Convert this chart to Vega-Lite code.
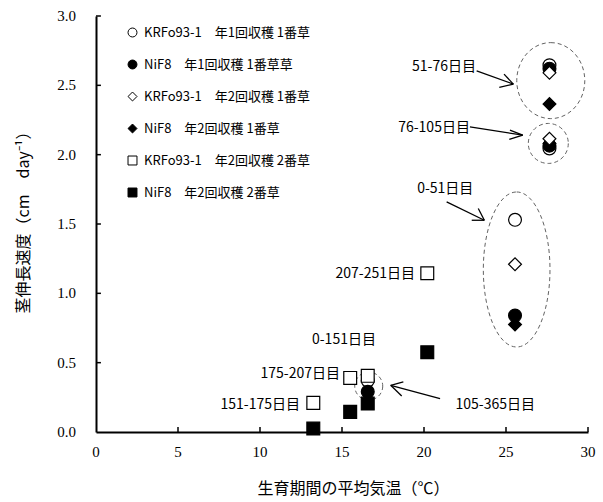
{
  "$schema": "https://vega.github.io/schema/vega-lite/v6.json",
  "width": 492,
  "height": 416,
  "autosize": "none",
  "padding": {"left": 96, "top": 16, "right": 15, "bottom": 70},
  "background": "white",
  "config": {
    "view": {"stroke": null},
    "axis": {
      "grid": false,
      "ticks": false,
      "labels": false,
      "domainColor": "black",
      "domainWidth": 2,
      "titleColor": "black",
      "titleFont": "Noto Sans CJK JP",
      "titleFontSize": 16,
      "titleFontWeight": "normal"
    },
    "legend": {"labelLimit": 0}
  },
  "datasets": {
    "points": [
      {"series": "KRFo93-1　年1回収穫 1番草", "temp": 25.55, "rate": 1.53},
      {"series": "KRFo93-1　年1回収穫 1番草", "temp": 27.65, "rate": 2.645},
      {"series": "KRFo93-1　年1回収穫 1番草", "temp": 27.65, "rate": 2.045},
      {"series": "KRFo93-1　年1回収穫 1番草", "temp": 16.57, "rate": 0.37},
      {"series": "NiF8　年1回収穫 1番草草", "temp": 25.55, "rate": 0.84},
      {"series": "NiF8　年1回収穫 1番草草", "temp": 27.65, "rate": 2.62},
      {"series": "NiF8　年1回収穫 1番草草", "temp": 27.65, "rate": 2.065},
      {"series": "NiF8　年1回収穫 1番草草", "temp": 16.57, "rate": 0.29},
      {"series": "NiF8　年2回収穫 1番草", "temp": 25.55, "rate": 0.775},
      {"series": "NiF8　年2回収穫 1番草", "temp": 27.65, "rate": 2.365},
      {"series": "NiF8　年2回収穫 1番草", "temp": 27.65, "rate": 2.08},
      {"series": "KRFo93-1　年2回収穫 1番草", "temp": 25.55, "rate": 1.21},
      {"series": "KRFo93-1　年2回収穫 1番草", "temp": 27.65, "rate": 2.59},
      {"series": "KRFo93-1　年2回収穫 1番草", "temp": 27.65, "rate": 2.115},
      {"series": "KRFo93-1　年2回収穫 2番草", "temp": 13.25, "rate": 0.21},
      {"series": "KRFo93-1　年2回収穫 2番草", "temp": 15.5, "rate": 0.39},
      {"series": "KRFo93-1　年2回収穫 2番草", "temp": 16.57, "rate": 0.405},
      {"series": "KRFo93-1　年2回収穫 2番草", "temp": 20.2, "rate": 1.145},
      {"series": "NiF8　年2回収穫 2番草", "temp": 13.25, "rate": 0.025},
      {"series": "NiF8　年2回収穫 2番草", "temp": 15.5, "rate": 0.145},
      {"series": "NiF8　年2回収穫 2番草", "temp": 16.57, "rate": 0.205},
      {"series": "NiF8　年2回収穫 2番草", "temp": 20.2, "rate": 0.575}
    ],
    "labels": [
      {"text": "51-76日目", "temp": 23.17, "rate": 2.631},
      {"text": "76-105日目", "temp": 22.8, "rate": 2.189},
      {"text": "0-51日目", "temp": 23.01, "rate": 1.756},
      {"text": "207-251日目", "temp": 19.45, "rate": 1.143},
      {"text": "0-151日目", "temp": 17.07, "rate": 0.667},
      {"text": "175-207日目", "temp": 14.88, "rate": 0.421},
      {"text": "151-175日目", "temp": 12.44, "rate": 0.193},
      {"text": "105-365日目", "temp": 26.77, "rate": 0.193}
    ],
    "arrows": [
      {"x": 23.21, "y": 2.605, "x2": 25.45, "y2": 2.509},
      {"x": 25.45, "y": 2.509, "x2": 24.59, "y2": 2.485},
      {"x": 25.45, "y": 2.509, "x2": 24.88, "y2": 2.581},
      {"x": 22.8, "y": 2.201, "x2": 26.02, "y2": 2.141},
      {"x": 26.02, "y": 2.141, "x2": 25.2, "y2": 2.11},
      {"x": 26.02, "y": 2.141, "x2": 25.24, "y2": 2.177},
      {"x": 21.38, "y": 1.659, "x2": 23.68, "y2": 1.527},
      {"x": 23.68, "y": 1.527, "x2": 22.91, "y2": 1.527},
      {"x": 23.68, "y": 1.527, "x2": 23.31, "y2": 1.612},
      {"x": 20.98, "y": 0.241, "x2": 17.97, "y2": 0.337},
      {"x": 17.97, "y": 0.337, "x2": 18.74, "y2": 0.361},
      {"x": 17.97, "y": 0.337, "x2": 18.64, "y2": 0.26}
    ],
    "ticks": [
      {"x": 5, "y": 0, "x2": 5, "y2": 0.036},
      {"x": 10, "y": 0, "x2": 10, "y2": 0.036},
      {"x": 15, "y": 0, "x2": 15, "y2": 0.036},
      {"x": 20, "y": 0, "x2": 20, "y2": 0.036},
      {"x": 25, "y": 0, "x2": 25, "y2": 0.036},
      {"x": 30, "y": 0, "x2": 30, "y2": 0.036},
      {"x": 0, "y": 0.5, "x2": 0.3, "y2": 0.5},
      {"x": 0, "y": 1, "x2": 0.3, "y2": 1},
      {"x": 0, "y": 1.5, "x2": 0.3, "y2": 1.5},
      {"x": 0, "y": 2, "x2": 0.3, "y2": 2},
      {"x": 0, "y": 2.5, "x2": 0.3, "y2": 2.5},
      {"x": 0, "y": 3, "x2": 0.3, "y2": 3}
    ],
    "xticklabels": [
      {"temp": 0, "rate": 0, "label": "0"},
      {"temp": 5, "rate": 0, "label": "5"},
      {"temp": 10, "rate": 0, "label": "10"},
      {"temp": 15, "rate": 0, "label": "15"},
      {"temp": 20, "rate": 0, "label": "20"},
      {"temp": 25, "rate": 0, "label": "25"},
      {"temp": 30, "rate": 0, "label": "30"}
    ],
    "yticklabels": [
      {"temp": 0, "rate": 0, "label": "0.0"},
      {"temp": 0, "rate": 0.5, "label": "0.5"},
      {"temp": 0, "rate": 1, "label": "1.0"},
      {"temp": 0, "rate": 1.5, "label": "1.5"},
      {"temp": 0, "rate": 2, "label": "2.0"},
      {"temp": 0, "rate": 2.5, "label": "2.5"},
      {"temp": 0, "rate": 3, "label": "3.0"}
    ]
  },
  "layer": [
    {
      "data": {"values": [{"temp": 27.73, "rate": 2.534}]},
      "mark": {"type": "point", "shape": "M0,-1A0.895,1,0,1,1,0,1A0.895,1,0,1,1,0,-1Z", "size": 5776, "filled": false, "stroke": "#222", "strokeWidth": 1, "strokeDash": [4, 3]},
      "encoding": {
        "x": {"field": "temp", "type": "quantitative", "scale": {"domain": [0, 30], "nice": false},
          "axis": {"values": [0, 5, 10, 15, 20, 25, 30], "title": "生育期間の平均気温（℃）", "titleX": 257, "titleY": 56, "titleBaseline": "middle"}},
        "y": {"field": "rate", "type": "quantitative", "scale": {"domain": [0, 3], "nice": false},
          "axis": {"values": [0, 0.5, 1, 1.5, 2, 2.5, 3], "title": "茎伸長速度（cm　day⁻¹）", "titleX": -73, "titleY": 202, "titleBaseline": "middle", "titleAlign": "center"}}
      }
    },
    {
      "data": {"values": [{"temp": 27.58, "rate": 2.081}]},
      "mark": {"type": "point", "shape": "circle", "size": 1600, "filled": false, "stroke": "#222", "strokeWidth": 1, "strokeDash": [4, 3]},
      "encoding": {
        "x": {"field": "temp", "type": "quantitative"},
        "y": {"field": "rate", "type": "quantitative"}
      }
    },
    {
      "data": {"values": [{"temp": 25.65, "rate": 1.172}]},
      "mark": {"type": "point", "shape": "M0,-1A0.43,1,0,1,1,0,1A0.43,1,0,1,1,0,-1Z", "size": 24025, "filled": false, "stroke": "#222", "strokeWidth": 1, "strokeDash": [4, 3]},
      "encoding": {
        "x": {"field": "temp", "type": "quantitative"},
        "y": {"field": "rate", "type": "quantitative"}
      }
    },
    {
      "data": {"values": [{"temp": 16.63, "rate": 0.331}]},
      "mark": {"type": "point", "shape": "circle", "size": 784, "filled": false, "stroke": "#222", "strokeWidth": 1, "strokeDash": [4, 3]},
      "encoding": {
        "x": {"field": "temp", "type": "quantitative"},
        "y": {"field": "rate", "type": "quantitative"}
      }
    },
    {
      "data": {"name": "ticks"},
      "mark": {"type": "rule", "color": "black", "strokeWidth": 1.5},
      "encoding": {
        "x": {"field": "x", "type": "quantitative"},
        "y": {"field": "y", "type": "quantitative"},
        "x2": {"field": "x2"},
        "y2": {"field": "y2"}
      }
    },
    {
      "data": {"name": "xticklabels"},
      "mark": {"type": "text", "align": "center", "baseline": "middle", "dy": 20, "font": "Liberation Serif", "fontSize": 15, "color": "black"},
      "encoding": {
        "x": {"field": "temp", "type": "quantitative"},
        "y": {"field": "rate", "type": "quantitative"},
        "text": {"field": "label"}
      }
    },
    {
      "data": {"name": "yticklabels"},
      "mark": {"type": "text", "align": "right", "baseline": "middle", "dx": -20, "font": "Liberation Serif", "fontSize": 15, "color": "black"},
      "encoding": {
        "x": {"field": "temp", "type": "quantitative"},
        "y": {"field": "rate", "type": "quantitative"},
        "text": {"field": "label"}
      }
    },
    {
      "data": {"name": "arrows"},
      "mark": {"type": "rule", "color": "black", "strokeWidth": 1.3},
      "encoding": {
        "x": {"field": "x", "type": "quantitative"},
        "y": {"field": "y", "type": "quantitative"},
        "x2": {"field": "x2"},
        "y2": {"field": "y2"}
      }
    },
    {
      "data": {"name": "labels"},
      "mark": {"type": "text", "align": "right", "baseline": "middle", "font": "Noto Sans CJK JP", "fontSize": 14, "color": "black"},
      "encoding": {
        "x": {"field": "temp", "type": "quantitative"},
        "y": {"field": "rate", "type": "quantitative"},
        "text": {"field": "text"}
      }
    },
    {
      "data": {"name": "points"},
      "mark": {"type": "point", "filled": true, "strokeWidth": 1.2, "size": 165, "opacity": 1},
      "encoding": {
        "x": {"field": "temp", "type": "quantitative"},
        "y": {"field": "rate", "type": "quantitative"},
        "shape": {
          "field": "series", "type": "nominal",
          "scale": {
            "domain": ["KRFo93-1　年1回収穫 1番草", "NiF8　年1回収穫 1番草草", "KRFo93-1　年2回収穫 1番草", "NiF8　年2回収穫 1番草", "KRFo93-1　年2回収穫 2番草", "NiF8　年2回収穫 2番草"],
            "range": ["circle", "circle", "diamond", "diamond", "square", "square"]
          },
          "legend": {"orient": "none", "legendX": 30, "legendY": 10, "title": null, "labelFont": "Noto Sans CJK JP", "labelFontSize": 13, "labelColor": "black", "labelLimit": 0, "symbolSize": 80, "symbolStrokeWidth": 1, "rowPadding": 18, "labelOffset": 5}
        },
        "fill": {
          "field": "series", "type": "nominal",
          "scale": {
            "domain": ["KRFo93-1　年1回収穫 1番草", "NiF8　年1回収穫 1番草草", "KRFo93-1　年2回収穫 1番草", "NiF8　年2回収穫 1番草", "KRFo93-1　年2回収穫 2番草", "NiF8　年2回収穫 2番草"],
            "range": ["white", "black", "white", "black", "white", "black"]
          },
          "legend": {"orient": "none", "legendX": 30, "legendY": 10, "title": null, "labelFont": "Noto Sans CJK JP", "labelFontSize": 13, "labelColor": "black", "labelLimit": 0, "symbolSize": 80, "symbolStrokeWidth": 1, "rowPadding": 18, "labelOffset": 5}
        },
        "stroke": {
          "field": "series", "type": "nominal",
          "scale": {
            "domain": ["KRFo93-1　年1回収穫 1番草", "NiF8　年1回収穫 1番草草", "KRFo93-1　年2回収穫 1番草", "NiF8　年2回収穫 1番草", "KRFo93-1　年2回収穫 2番草", "NiF8　年2回収穫 2番草"],
            "range": ["black", "black", "black", "black", "black", "black"]
          },
          "legend": {"orient": "none", "legendX": 30, "legendY": 10, "title": null, "labelFont": "Noto Sans CJK JP", "labelFontSize": 13, "labelColor": "black", "labelLimit": 0, "symbolSize": 80, "symbolStrokeWidth": 1, "rowPadding": 18, "labelOffset": 5}
        }
      }
    }
  ]
}
